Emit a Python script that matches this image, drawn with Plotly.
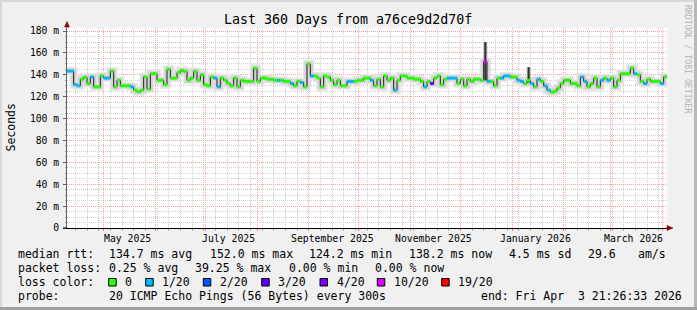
import plotly.graph_objects as go
import pandas as pd

# ---------------- data ----------------
start = pd.Timestamp("2025-04-08 21:26:33")
end = pd.Timestamp("2026-04-03 21:26:33")
step_days = 2

median_ms = [
    143.5, 143.5, 131, 130, 136, 137.7, 132, 138, 129, 129,
    139, 137, 137, 143.5, 129, 135, 130, 130, 130, 129,
    126, 124.5, 126, 138, 127, 141, 141, 135, 135, 131,
    145, 137, 137, 142, 144, 143, 135, 137, 143, 135,
    140, 131, 130, 138, 137, 129, 137, 135, 132, 130,
    137, 129, 135, 134, 134, 134, 146, 134, 137, 137,
    136, 136, 135, 135, 135, 134, 134, 132, 130, 134,
    133, 129, 150, 139, 139, 137, 129, 139, 138, 135,
    131, 135, 130, 130, 134, 134, 134, 135, 135, 137,
    137, 135, 130, 136, 129, 139, 135, 137, 126, 135,
    139, 139, 137, 137, 136, 136, 134, 129, 134, 132,
    137, 139, 131, 136, 137, 137, 137, 132, 136, 130,
    136, 134, 136, 136, 135, 152, 134, 134, 130, 137,
    137, 139, 139, 138, 138, 135, 134, 132, 135, 132,
    129, 136, 134, 130, 126, 124.2, 125, 128, 132, 135,
    135, 132, 132, 130, 138, 134, 129, 132, 137, 129,
    135, 137, 135, 137, 129, 135, 141, 141, 141, 146,
    141, 140, 134, 132, 136, 134, 134, 134, 132, 138.2,
]

loss_20 = [
    1, 1, 1, 1, 0, 0, 0, 1, 0, 0,
    0, 1, 1, 0, 0, 0, 0, 0, 0, 1,
    0, 0, 0, 0, 0, 0, 0, 0, 0, 0,
    0, 0, 0, 0, 0, 0, 0, 0, 0, 0,
    0, 0, 0, 0, 1, 1, 0, 0, 0, 0,
    0, 0, 0, 0, 0, 0, 0, 0, 0, 0,
    0, 0, 0, 1, 0, 0, 0, 1, 0, 0,
    1, 0, 0, 1, 0, 0, 0, 0, 0, 0,
    0, 0, 0, 0, 1, 1, 0, 0, 0, 0,
    0, 1, 0, 0, 0, 0, 0, 0, 1, 0,
    0, 0, 0, 0, 0, 0, 0, 1, 0, 3,
    0, 0, 0, 0, 1, 1, 1, 0, 0, 0,
    0, 0, 0, 0, 0, 8, 1, 0, 0, 0,
    1, 1, 1, 0, 0, 1, 1, 0, 0, 1,
    0, 1, 0, 1, 1, 0, 0, 0, 0, 0,
    0, 0, 0, 0, 1, 1, 0, 0, 0, 0,
    1, 0, 1, 0, 0, 0, 0, 0, 0, 0,
    1, 0, 0, 1, 0, 0, 0, 0, 1, 0,
]

# smoke spikes (sample index, low, high in ms)
spike_idx = [125, 138]
spike_lo = [135, 133]
spike_hi = [170, 147]

loss_classes = [0, 1, 2, 3, 4, 10, 19]
loss_labels = ["0", "1/20", "2/20", "3/20", "4/20", "10/20", "19/20"]
loss_colors = ["#26ff00", "#00b8ff", "#0059ff", "#5e00ff", "#7e00ff", "#dd00ff", "#ff0000"]

y_tickvals = [0, 20, 40, 60, 80, 100, 120, 140, 160, 180]
y_ticktext = ["0", "20 m", "40 m", "60 m", "80 m", "100 m", "120 m", "140 m", "160 m", "180 m"]
x_label_dates = ["2025-05-15", "2025-07-15", "2025-09-15", "2025-11-15", "2026-01-15", "2026-03-15"]
x_label_text = ["May 2025", "July 2025", "September 2025", "November 2025", "January 2026", "March 2026"]

# ---------------- geometry helpers ----------------
W, H = 697, 310
L, R, T, B = 67, 667, 28, 228
def xp(px):
    return (px - L) / (R - L)
def yp(py):
    return (B - py) / (B - T)

MONO = "DejaVu Sans Mono"
n = len(median_ms)
times = [start + pd.Timedelta(days=step_days * i) for i in range(n + 1)]

fig = go.Figure()

# smoke halo
for wdt, col in [(8, "#e6e6e6"), (5, "#d2d2d2")]:
    fig.add_trace(go.Scatter(x=times, y=median_ms + [median_ms[-1]], mode="lines",
                             line=dict(color=col, width=wdt, shape="hv"),
                             hoverinfo="skip", showlegend=False))

# smoke spikes
sx, sy = [], []
for i, lo, hi in zip(spike_idx, spike_lo, spike_hi):
    mid = times[i] + pd.Timedelta(days=step_days / 2)
    sx += [mid, mid, None]
    sy += [lo, hi, None]
fig.add_trace(go.Scatter(x=sx, y=sy, mode="lines", line=dict(color="#bbbbbb", width=4),
                         hoverinfo="skip", showlegend=False))
fig.add_trace(go.Scatter(x=sx, y=[None if v is None else v for v in sy], mode="lines",
                         line=dict(color="#303030", width=2), hoverinfo="skip", showlegend=False))

# black median step line
fig.add_trace(go.Scatter(x=times, y=median_ms + [median_ms[-1]], mode="lines",
                         line=dict(color="#202020", width=1, shape="hv"),
                         hoverinfo="skip", showlegend=False))

# colored segments by loss class
def loss_class(l):
    for k, c in enumerate(loss_classes):
        if l <= c:
            return k
    return len(loss_classes) - 1

for k, col in enumerate(loss_colors):
    xs, ys = [], []
    for i in range(n):
        if loss_class(loss_20[i]) == k:
            xs += [times[i], times[i + 1], None]
            ys += [median_ms[i], median_ms[i], None]
    if xs:
        fig.add_trace(go.Scatter(x=xs, y=ys, mode="lines", line=dict(color=col, width=3),
                                 hoverinfo="skip", showlegend=False))

MGRID = "#f2a0a0"
GRID = "#cfcfcf"

fig.update_layout(
    width=W, height=H, autosize=False,
    margin=dict(l=L, r=W - R, t=T, b=H - B, pad=0),
    paper_bgcolor="#f0f0f0", plot_bgcolor="#ffffff",
    font=dict(family=MONO, size=10, color="#000000"),
    showlegend=False,
    xaxis=dict(
        type="date", range=[start, end],
        showgrid=True, gridcolor=MGRID, griddash="1px,1px", gridwidth=1,
        tick0="2025-05-01", dtick="M1",
        showticklabels=False, ticks="outside", ticklen=2, tickcolor="#e08080",
        minor=dict(dtick=7 * 86400000, tick0="2025-04-14", showgrid=True, gridcolor=GRID,
                   griddash="1px,1px", ticks="outside", ticklen=2, tickcolor="#b0b0b0"),
        showline=True, linecolor="#000000", linewidth=1, zeroline=False, fixedrange=True,
    ),
    yaxis=dict(
        range=[0, 182.8], tickmode="array", tickvals=y_tickvals, ticktext=y_ticktext,
        showgrid=True, gridcolor=MGRID, griddash="1px,1px", gridwidth=1,
        ticks="outside", ticklen=3, tickcolor="#606060",
        tickfont=dict(family=MONO, size=9.7, color="#000000"), ticklabelstandoff=2,
        minor=dict(tick0=0, dtick=5, showgrid=True, gridcolor=GRID, griddash="1px,1px",
                   ticks="outside", ticklen=1, tickcolor="#a0a0a0"),
        showline=True, linecolor="#606060", linewidth=1, zeroline=False, fixedrange=True,
    ),
)

ann = []
def text(t, px, py, size=11.5, xanchor="left", color="#000000", angle=0):
    ann.append(dict(text=t.replace(" ", "\u00a0"), x=xp(px), y=yp(py), xref="paper", yref="paper",
                    xanchor=xanchor, yanchor="middle", showarrow=False, textangle=angle,
                    font=dict(family=MONO, size=size, color=color)))

text("Last 360 Days from a76ce9d2d70f", 348, 19.5, size=13.3, xanchor="center")
text("Seconds", 10.5, 128, size=11.5, xanchor="center", angle=-90)
text("RRDTOOL / TOBI OETIKER", 688, 59, size=8.2, xanchor="center", color="#b4b4b4", angle=90)

for d, t in zip(x_label_dates, x_label_text):
    ann.append(dict(text=t, x=d, y=yp(238.5), xref="x", yref="paper", xanchor="center",
                    yanchor="middle", showarrow=False, font=dict(family=MONO, size=9.8)))

# legend lines
text("median rtt:", 16, 254)
text("134.7 ms avg", 107.3, 254)
text("152.0 ms max", 207.7, 254)
text("124.2 ms min", 307.3, 254)
text("138.2 ms now", 407.3, 254)
text("4.5 ms sd", 506.7, 254)
text("29.6", 586, 254)
text("am/s", 636, 254)

text("packet loss:", 16, 268)
text("0.25 % avg", 107.3, 268)
text("39.25 % max", 192.7, 268)
text("0.00 % min", 287.3, 268)
text("0.00 % now", 372.7, 268)

text("loss color:", 16, 282)
box_x = [108.7, 145.7, 203.3, 261.7, 320.0, 377.3, 441.7]
shapes = []
for bx, lab, col in zip(box_x, loss_labels, loss_colors):
    shapes.append(dict(type="rect", xref="paper", yref="paper", x0=xp(bx), x1=xp(bx + 7.5),
                       y0=yp(286), y1=yp(278.5), fillcolor=col, line=dict(color="#000000", width=1)))
    text(lab, bx + 14.6, 282)

text("probe:", 16, 296)
text("20 ICMP Echo Pings (56 Bytes) every 300s", 107.3, 296)
text("end: Fri Apr  3 21:26:33 2026", 479.3, 296)

# frame shading
def prect(x0, y0, x1, y1, col):
    shapes.append(dict(type="rect", xref="paper", yref="paper", x0=xp(x0), x1=xp(x1),
                       y0=yp(y1), y1=yp(y0), fillcolor=col, line=dict(width=0), layer="above"))
prect(0, 0, W, 2, "#d8d8d8")
prect(0, 0, 2, H, "#d8d8d8")
prect(W - 3, 0, W, H, "#b8b8b8")
prect(0, H - 3, W, H, "#a0a0a0")

# axis extensions and arrows
shapes.append(dict(type="line", xref="paper", yref="paper", x0=xp(67), x1=xp(67), y0=yp(28), y1=yp(25),
                   line=dict(color="#606060", width=1)))
shapes.append(dict(type="line", xref="paper", yref="paper", x0=xp(63), x1=xp(67), y0=yp(228), y1=yp(228),
                   line=dict(color="#000000", width=1)))
shapes.append(dict(type="path", xref="paper", yref="paper",
                   path=f"M {xp(667)},{yp(225.5)} L {xp(673)},{yp(228)} L {xp(667)},{yp(230.5)} Z",
                   fillcolor="#8b0000", line=dict(color="#8b0000", width=0.5)))
shapes.append(dict(type="path", xref="paper", yref="paper",
                   path=f"M {xp(64.5)},{yp(27)} L {xp(67)},{yp(21.5)} L {xp(69.5)},{yp(27)} Z",
                   fillcolor="#8b0000", line=dict(color="#8b0000", width=0.5)))

fig.update_layout(annotations=ann, shapes=shapes)
fig.write_html("out.html")
